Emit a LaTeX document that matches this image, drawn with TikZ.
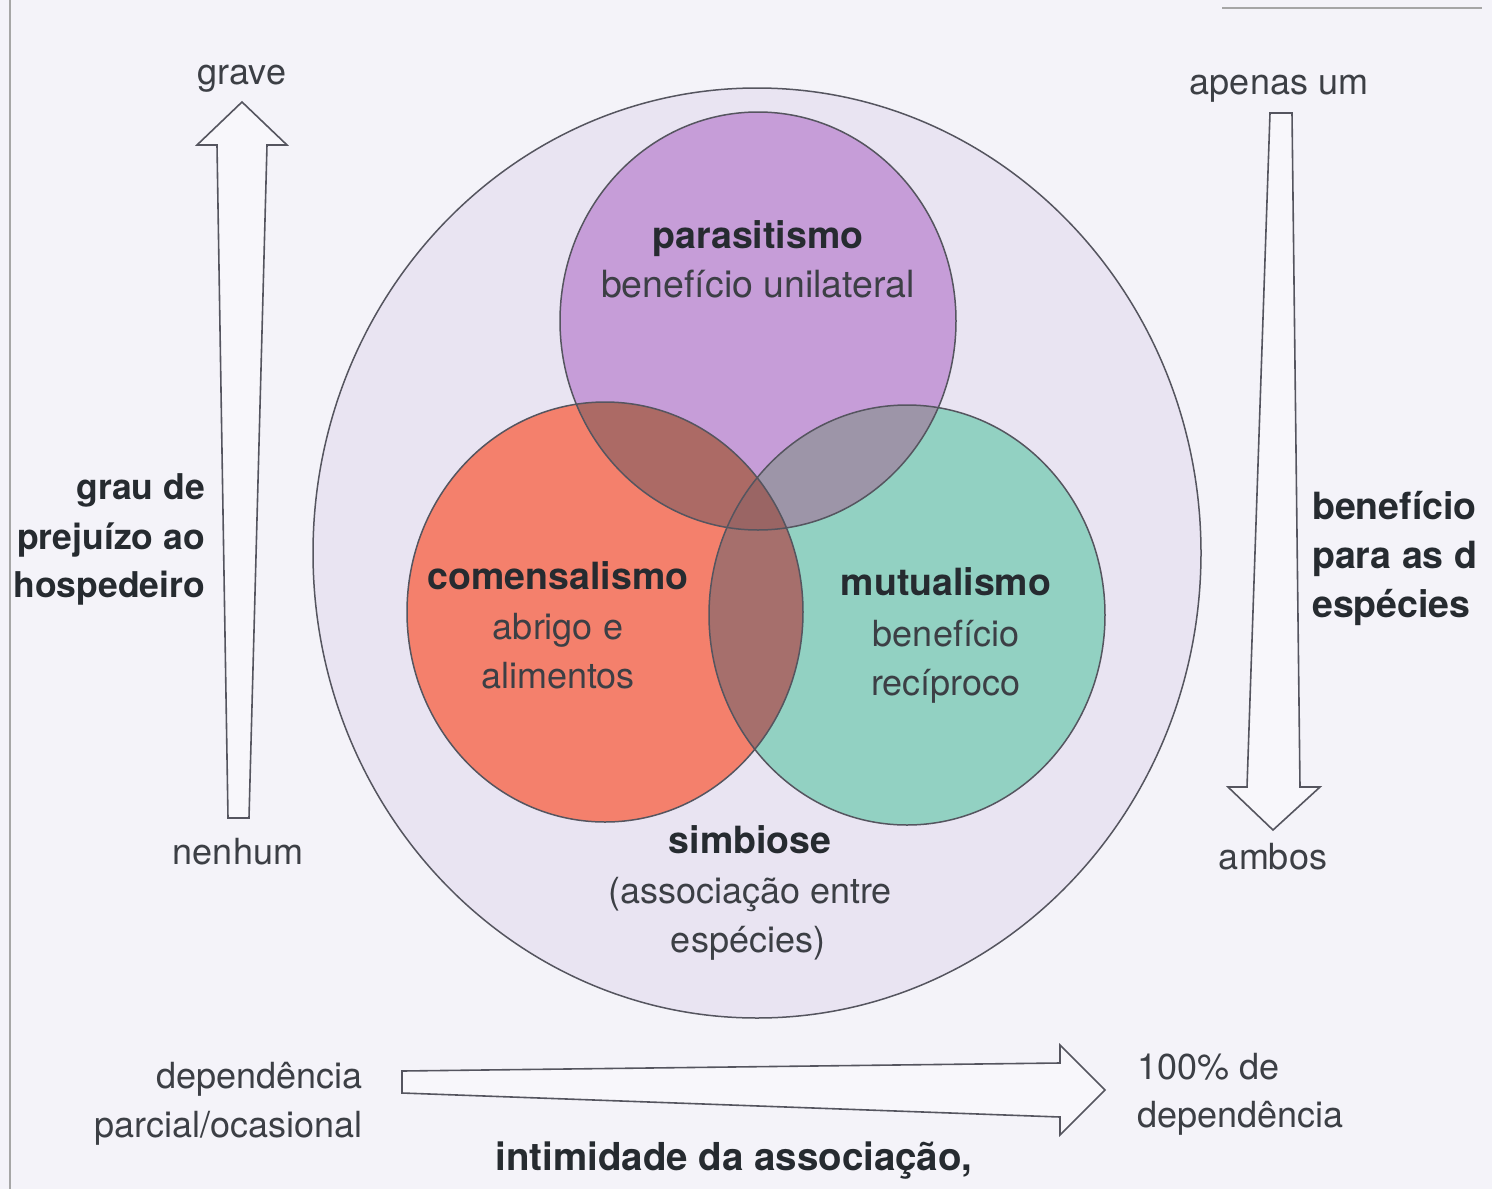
\documentclass[tikz,border=0pt]{standalone}
\usepackage{fontspec}
\setmainfont{TeX Gyre Heros}
\definecolor{bggray}{HTML}{F4F3F9}
\definecolor{arrowfill}{HTML}{F8F7FB}
\definecolor{outerfill}{HTML}{E9E4F2}
\definecolor{edgegray}{HTML}{55555F}
\definecolor{txtgray}{HTML}{3C3F45}
\definecolor{boldgray}{HTML}{262B30}
\definecolor{parcol}{HTML}{C69DD8}
\definecolor{comcol}{HTML}{F4806C}
\definecolor{mutcol}{HTML}{92D1C2}
\definecolor{pcol}{HTML}{AC6A65}
\definecolor{ptcol}{HTML}{9D95A8}
\definecolor{ctcol}{HTML}{A66F6C}
\definecolor{pctcol}{HTML}{9A6564}
\begin{document}
\begin{tikzpicture}[x=1pt,y=-1pt,
  txt/.style={font=\fontsize{36}{44}\selectfont, text=txtgray, inner sep=0pt, anchor=base},
  btxt/.style={font=\fontsize{37.5}{44}\selectfont\bfseries, text=boldgray, inner sep=0pt, anchor=base},
  sidebold/.style={btxt, font=\fontsize{35.5}{44}\selectfont\bfseries},
  ring/.style={draw=edgegray, line width=1.5pt},
  bigarrow/.style={draw=edgegray, line width=1.6pt, fill=arrowfill, line join=miter},
  frameline/.style={draw=gray!70, line width=1.2pt}]
\useasboundingbox (0,0) rectangle (1492,1189);
\fill[bggray] (0,0) rectangle (1492,1189);
% page frame lines of the scan
\draw[frameline] (10,0) -- (10,1189);
\draw[frameline] (1222,8) -- (1482,8);

% outer circle (simbiose)
\path[ring, fill=outerfill] (757,553) ellipse [x radius=444pt, y radius=465pt];

% three circles
\fill[parcol] (758,321) ellipse [x radius=198pt, y radius=209pt];
\fill[comcol] (605,612) ellipse [x radius=198pt, y radius=210pt];
\fill[mutcol] (907,615) ellipse [x radius=198pt, y radius=210pt];
\begin{scope}
  \clip (758,321) ellipse [x radius=198pt, y radius=209pt];
  \fill[pcol] (605,612) ellipse [x radius=198pt, y radius=210pt];
  \fill[ptcol] (907,615) ellipse [x radius=198pt, y radius=210pt];
  \clip (605,612) ellipse [x radius=198pt, y radius=210pt];
  \fill[pctcol] (907,615) ellipse [x radius=198pt, y radius=210pt];
\end{scope}
\begin{scope}[even odd rule]
  \clip (605,612) ellipse [x radius=198pt, y radius=210pt];
  \clip (907,615) ellipse [x radius=198pt, y radius=210pt];
  \clip (0,0) rectangle (1492,1189) (758,321) ellipse [x radius=198pt, y radius=209pt];
  \fill[ctcol] (0,0) rectangle (1492,1189);
\end{scope}
\draw[ring] (758,321) ellipse [x radius=198pt, y radius=209pt];
\draw[ring] (605,612) ellipse [x radius=198pt, y radius=210pt];
\draw[ring] (907,615) ellipse [x radius=198pt, y radius=210pt];

% arrows
\draw[bigarrow] (228,818) -- (217,145) -- (197,145) -- (242,102) -- (287,145) -- (267,145) -- (249,818) -- cycle;
\draw[bigarrow] (1270,113) -- (1292,113) -- (1300,787) -- (1320,787) -- (1273,830) -- (1228,787) -- (1247,787) -- cycle;
\draw[bigarrow] (402,1071) -- (1060,1063) -- (1060,1045) -- (1105,1090) -- (1060,1135) -- (1060,1117) -- (402,1093) -- cycle;

% texts
\node[txt] (grave) at (242,84) {grave};
\node[txt] (nenhum) at (238,864) {nenhum};
\node[txt] (apenas) at (1279,94) {apenas um};
\node[txt] (ambos) at (1273,869) {ambos};

\node[sidebold, anchor=base east] (grau1) at (205,499) {grau de};
\node[sidebold, anchor=base east] (grau2) at (205,549) {prejuízo ao};
\node[sidebold, anchor=base east] (grau3) at (205,597) {hospedeiro};

\node[btxt, anchor=base west] (ben1) at (1312,519) {benefício};
\node[btxt, anchor=base west] (ben2) at (1312,568) {para as d};
\node[btxt, anchor=base west] (ben3) at (1312,617) {espécies};

\node[btxt] (par) at (758,248) {parasitismo};
\node[txt, font=\fontsize{37.5}{44}\selectfont] (par2) at (758,297) {benefício unilateral};

\node[btxt] (com) at (558,589) {comensalismo};
\node[txt] (com2) at (558,639) {abrigo e};
\node[txt] (com3) at (558,688) {alimentos};

\node[btxt] (mut) at (946,595) {mutualismo};
\node[txt] (mut2) at (946,646) {benefício};
\node[txt] (mut3) at (946,695) {recíproco};

\node[btxt] (sim) at (750,853) {simbiose};
\node[txt] (sim2) at (750,903) {(associação entre};
\node[txt] (sim3) at (748,952) {espécies)};

\node[txt, anchor=base east] (dep1) at (363,1088) {dependência};
\node[txt, anchor=base east] (dep2) at (363,1137) {parcial/ocasional};
\node[txt, anchor=base west] (cem1) at (1137,1079) {100\% de};
\node[txt, anchor=base west] (cem2) at (1137,1127) {dependência};
\node[btxt, font=\fontsize{38.5}{44}\selectfont\bfseries] (intim) at (734,1170) {intimidade da associação,};
\end{tikzpicture}
\end{document}
